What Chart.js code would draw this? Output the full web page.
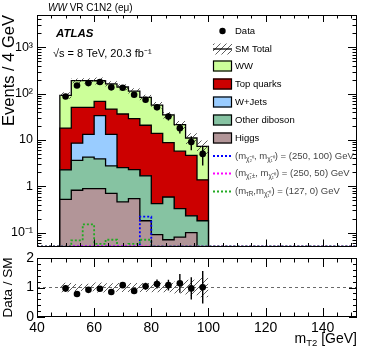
<!DOCTYPE html>
<html>
<head>
<meta charset="utf-8">
<script src="https://cdn.jsdelivr.net/npm/chart.js@4.4.0/dist/chart.umd.min.js"></script>
<style>
body { margin: 0; background: #fff; }
#wrap { position: relative; width: 374px; height: 359px; }
canvas { position: absolute; left: 0; }
</style>
</head>
<body>
<div id="wrap">
  <canvas id="main" width="374" height="258" style="top:0px"></canvas>
  <canvas id="ratio" width="374" height="119" style="top:240px"></canvas>
</div>
<script>
// bins of 4 GeV, low edges
const binLow = [48, 52, 56, 60, 64, 68, 72, 76, 80, 84, 88, 92, 96];
const binWidth = 4;

// stacked backgrounds (events / bin)
const higgs        = [0.52, 0.82, 0.89, 0.89, 0.70, 0.46, 0.54, 0.18, 0.09, 0.07, 0.08, 0.10, 0];
const otherDiboson = [1.75, 2.8, 3.37, 3.0, 2.05, 2.07, 1.75, 1.5, 0.33, 0.51, 0.25, 0.13, 0.18];
const wJets        = [0, 4.9, 9.0, 29.5, 10.5, 0, 0, 0, 0, 0, 0, 0, 0];
const topQuarks    = [15.8, 41.9, 37.1, 34.6, 33.3, 33.8, 26.7, 19.1, 13.4, 8.2, 5.4, 4.4, 1.2];
const ww           = [74, 140, 140, 122, 116, 103, 85, 62, 43, 26, 15.7, 6.4, 5.9];
const smUnc        = [0.16, 0.12, 0.13, 0.17, 0.14, 0.15, 0.15, 0.15, 0.16, 0.16, 0.2, 0.26, 0.33];

// data
const dataVals = [87, 150, 169, 178, 137, 134, 95, 74, 51, 32, 18, 9, 5];
const dataErr  = [9.3, 12.2, 13, 13.3, 11.7, 11.6, 9.7, 8.6, 7.1, 5.7, 4.2, 3, 2.2];

// signals
const sigC1N2_100 = [0, 0, 0, 0, 0, 0, 0, 0.22, 0, 0, 0, 0, 0];
const sigC1C1_50  = [0, 0, 0, 0, 0, 0, 0, 0, 0, 0, 0, 0, 0];
const sigStau     = [0, 0.068, 0.15, 0.057, 0.07, 0.048, 0.057, 0.07, 0, 0, 0, 0, 0];

// ratio panel
const ratioVals = [0.97, 0.78, 0.92, 0.96, 0.85, 1.08, 0.88, 1.04, 1.12, 1.08, 1.14, 0.97, 1.01];
const ratioErr  = [0.11, 0.08, 0.08, 0.08, 0.09, 0.1, 0.1, 0.12, 0.15, 0.18, 0.32, 0.38, 0.55];

// axes
const xMin = 40, xMax = 152;
const yMin = 0.05, yMax = 5000;
const yTicks = [0.1, 1, 10, 100, 1000];
const yTickLabels = ['10⁻¹', '1', '10', '10²', '10³'];
const xTicks = [40, 60, 80, 100, 120, 140];
const ratioTicks = [0, 1, 2];

const FONT = '"Liberation Sans", Arial, Helvetica, sans-serif';

function cumulate(lists) {
    return binLow.map((_, i) => lists.reduce((s, l) => s + l[i], 0));
}
const cumHiggs = cumulate([higgs]);
const cumDib = cumulate([higgs, otherDiboson]);
const cumWj = cumulate([higgs, otherDiboson, wJets]);
const cumTop = cumulate([higgs, otherDiboson, wJets, topQuarks]);
const cumTotal = cumulate([higgs, otherDiboson, wJets, topQuarks, ww]);

// step outline: left edge, each bin, right edge
function steps(vals, floor) {
    const pts = [{ x: binLow[0], y: floor }];
    vals.forEach((v, i) => pts.push({ x: binLow[i], y: v > 0 ? v : floor }));
    const last = binLow[binLow.length - 1] + binWidth;
    pts.push({ x: last, y: vals[vals.length - 1] > 0 ? vals[vals.length - 1] : floor });
    pts.push({ x: last, y: floor });
    return pts;
}
function signalSteps(vals) {
    const pts = steps(vals, yMin);
    pts.unshift({ x: xMin, y: yMin });
    pts.push({ x: xMax, y: yMin });
    return pts;
}
function bandSteps(center, sign) {
    const pts = [];
    center.forEach((c, i) => pts.push({ x: binLow[i], y: c * (1 + sign * smUnc[i]) }));
    const i = center.length - 1;
    pts.push({ x: binLow[i] + binWidth, y: center[i] * (1 + sign * smUnc[i]) });
    return pts;
}

function makeHatch(ctx) {
    const c = document.createElement('canvas');
    c.width = 6; c.height = 6;
    const g = c.getContext('2d');
    g.strokeStyle = '#333';
    g.lineWidth = 0.8;
    g.beginPath();
    g.moveTo(0, 6); g.lineTo(6, 0);
    g.moveTo(-3, 3); g.lineTo(3, -3);
    g.moveTo(3, 9); g.lineTo(9, 3);
    g.stroke();
    return ctx.createPattern(c, 'repeat');
}

function stackSet(vals, color) {
    return {
        data: steps(vals, 1e-4), stepped: 'before', fill: 'start',
        backgroundColor: color, borderColor: '#000', borderWidth: 1.3, pointRadius: 0
    };
}
function sigSet(vals, color) {
    return {
        data: signalSteps(vals), stepped: 'before', fill: false,
        borderColor: color, borderWidth: 1.8, borderDash: [2, 2], pointRadius: 0
    };
}

// frame and inward ticks, ROOT style
function frameTicks(opts) {
    return {
        id: 'frameTicks',
        afterDatasetsDraw(chart) {
            const { ctx, chartArea: a, scales } = chart;
            const xs = scales.x, ys = scales.y;
            ctx.save();
            ctx.strokeStyle = '#000';
            ctx.lineWidth = 1;
            ctx.beginPath();
            const tx = (v, len) => {
                const p = Math.round(xs.getPixelForValue(v)) + 0.5;
                ctx.moveTo(p, a.bottom); ctx.lineTo(p, a.bottom - len);
                ctx.moveTo(p, a.top); ctx.lineTo(p, a.top + len);
            };
            const ty = (v, len) => {
                const p = Math.round(ys.getPixelForValue(v)) + 0.5;
                ctx.moveTo(a.left, p); ctx.lineTo(a.left + len, p);
                ctx.moveTo(a.right, p); ctx.lineTo(a.right - len, p);
            };
            xTicks.forEach(v => tx(v, opts.xMajor));
            for (let v = xMin; v <= xMax; v += 5) if (v % 20 !== 0) tx(v, opts.xMinor);
            opts.yMajorVals.forEach(v => ty(v, opts.yMajor));
            opts.yMinorVals.forEach(v => ty(v, opts.yMinor));
            ctx.stroke();
            ctx.strokeRect(Math.round(a.left) + 0.5, Math.round(a.top) + 0.5,
                Math.round(a.right - a.left) - 1, Math.round(a.bottom - a.top) - 1);
            ctx.restore();
        }
    };
}

function errorBars(vals, errs) {
    return {
        id: 'errorBars',
        afterDatasetsDraw(chart) {
            const { ctx, scales } = chart;
            ctx.save();
            ctx.strokeStyle = '#000';
            ctx.lineWidth = 1.4;
            ctx.beginPath();
            vals.forEach((v, i) => {
                const x = scales.x.getPixelForValue(binLow[i] + binWidth / 2);
                ctx.moveTo(x, scales.y.getPixelForValue(Math.max(v - errs[i], 1e-4)));
                ctx.lineTo(x, scales.y.getPixelForValue(v + errs[i]));
            });
            ctx.stroke();
            ctx.restore();
        }
    };
}

function drawParts(ctx, parts, x, y) {
    parts.forEach(p => {
        ctx.font = p[1];
        ctx.fillText(p[0], x, y + (p[2] || 0));
        x += ctx.measureText(p[0]).width;
    });
    return x;
}

const legendPlugin = {
    id: 'atlasLegend',
    afterDraw(chart) {
        const ctx = chart.ctx;
        const hatch = makeHatch(ctx);
        const rows = [31, 49, 66, 84, 102, 120, 138, 156, 173.5, 191.5];
        const bx = 213, bw = 19, bh = 11, tx = 235;
        ctx.save();
        ctx.textBaseline = 'middle';
        ctx.fillStyle = '#000';
        const F = '9.5px ' + FONT;
        const S = '6.5px ' + FONT;
        // Data
        ctx.beginPath(); ctx.arc(bx + 9.5, rows[0], 3.2, 0, Math.PI * 2); ctx.fill();
        ctx.font = F; ctx.fillText('Data', tx, rows[0]);
        // SM total
        ctx.fillStyle = hatch;
        ctx.fillRect(bx, rows[1] - bh / 2, bw, bh);
        ctx.strokeStyle = '#000'; ctx.lineWidth = 1.3;
        ctx.beginPath(); ctx.moveTo(bx, rows[1]); ctx.lineTo(bx + bw, rows[1]); ctx.stroke();
        ctx.fillStyle = '#000'; ctx.fillText('SM Total', tx, rows[1]);
        const boxes = [['WW', '#ccff99'], ['Top quarks', '#cc0000'], ['W+Jets', '#99ccff'],
            ['Other diboson', '#86c3a2'], ['Higgs', '#b29598']];
        boxes.forEach((b, k) => {
            const y = rows[2 + k];
            ctx.fillStyle = b[1];
            ctx.fillRect(bx, y - bh / 2, bw, bh);
            ctx.lineWidth = 1.2; ctx.strokeStyle = '#000';
            ctx.strokeRect(bx + 0.5, y - bh / 2 + 0.5, bw - 1, bh - 1);
            ctx.fillStyle = '#000';
            ctx.font = F;
            ctx.fillText(b[0], tx, y);
        });
        const sigs = [
            ['#0000ff', [['(m', F], ['χ̃₂⁰', S, 3], [', m', F], ['χ̃₁⁰', S, 3], [') = (250, 100) GeV', F]]],
            ['#ff00ff', [['(m', F], ['χ̃₁±', S, 3], [', m', F], ['χ̃₁⁰', S, 3], [') = (250, 50) GeV', F]]],
            ['#22aa22', [['(m', F], ['τ̃R', S, 3], [',m', F], ['χ̃₁⁰', S, 3], [') = (127, 0) GeV', F]]]
        ];
        sigs.forEach((s, k) => {
            const y = rows[7 + k];
            ctx.strokeStyle = s[0]; ctx.lineWidth = 1.8; ctx.setLineDash([2, 2]);
            ctx.beginPath(); ctx.moveTo(bx, y); ctx.lineTo(bx + bw, y); ctx.stroke();
            ctx.setLineDash([]);
            ctx.fillStyle = '#444';
            drawParts(ctx, s[1], tx, y);
        });
        ctx.restore();
    }
};

const labelsPlugin = {
    id: 'atlasLabels',
    afterDraw(chart) {
        const ctx = chart.ctx;
        ctx.save();
        ctx.fillStyle = '#000';
        ctx.textBaseline = 'alphabetic';
        drawParts(ctx, [['WW', 'italic 10px ' + FONT], [' VR C1N2 (eμ)', '10px ' + FONT]], 48, 10.5);
        ctx.font = 'italic bold 11.5px ' + FONT;
        ctx.fillText('ATLAS', 56, 37);
        ctx.font = '11px ' + FONT;
        ctx.fillText('√s = 8 TeV, 20.3 fb⁻¹', 53, 57);
        ctx.restore();
    }
};

const xTitlePlugin = {
    id: 'xTitle',
    afterDraw(chart) {
        const ctx = chart.ctx;
        const a = chart.chartArea;
        const parts = [['m', '14px ' + FONT], ['T2', '9.5px ' + FONT, 3], [' [GeV]', '14px ' + FONT]];
        let w = 0;
        parts.forEach(p => { ctx.font = p[1]; w += ctx.measureText(p[0]).width; });
        ctx.save();
        ctx.fillStyle = '#000';
        drawParts(ctx, parts, a.right - w, 103);
        ctx.restore();
    }
};

// log minor ticks
const logMinor = [];
[0.01, 0.1, 1, 10, 100, 1000].forEach(d => {
    for (let m = 2; m <= 9; m++) {
        const v = d * m;
        if (v > yMin && v < yMax) logMinor.push(v);
    }
});

const mainCtx = document.getElementById('main').getContext('2d');
const mainHatch = makeHatch(mainCtx);

new Chart(mainCtx, {
    type: 'line',
    data: {
        datasets: [
            {
                data: dataVals.map((v, i) => ({ x: binLow[i] + binWidth / 2, y: v })),
                showLine: false, pointRadius: 3.3, pointBackgroundColor: '#000', pointBorderWidth: 0
            },
            sigSet(sigStau, '#22aa22'),
            sigSet(sigC1C1_50, '#ff00ff'),
            sigSet(sigC1N2_100, '#0000ff'),
            {
                data: bandSteps(cumTotal, 1), stepped: 'before', fill: '+1',
                backgroundColor: mainHatch, borderColor: 'rgba(0,0,0,0)', borderWidth: 0, pointRadius: 0
            },
            {
                data: bandSteps(cumTotal, -1), stepped: 'before', fill: false,
                borderColor: 'rgba(0,0,0,0)', borderWidth: 0, pointRadius: 0
            },
            stackSet(cumHiggs, '#b29598'),
            stackSet(cumDib, '#86c3a2'),
            stackSet(cumWj, '#99ccff'),
            stackSet(cumTop, '#cc0000'),
            stackSet(cumTotal, '#ccff99')
        ]
    },
    options: {
        responsive: false,
        animation: false,
        events: [],
        layout: { padding: { top: 15, right: 17, bottom: 10, left: 0 } },
        plugins: { legend: { display: false }, tooltip: { enabled: false } },
        scales: {
            x: { type: 'linear', min: xMin, max: xMax, display: false },
            y: {
                type: 'logarithmic', min: yMin, max: yMax,
                afterBuildTicks: s => { s.ticks = yTicks.map(v => ({ value: v })); },
                afterFit: s => { s.width = 37; },
                grid: { display: false, drawTicks: false },
                border: { display: false },
                ticks: {
                    autoSkip: false, padding: 4, color: '#000',
                    font: { family: FONT, size: 12.5 },
                    callback: v => yTickLabels[yTicks.indexOf(v)]
                },
                title: {
                    display: true, text: 'Events / 4 GeV', align: 'end', color: '#000',
                    font: { family: FONT, size: 16.5 }, padding: 0
                }
            }
        }
    },
    plugins: [
        frameTicks({ xMajor: 7, xMinor: 3.5, yMajor: 9, yMinor: 4.5, yMajorVals: yTicks, yMinorVals: logMinor }),
        errorBars(dataVals, dataErr),
        legendPlugin,
        labelsPlugin
    ]
});

const ratioCtx = document.getElementById('ratio').getContext('2d');
const ratioHatch = makeHatch(ratioCtx);
const ones = binLow.map(() => 1);
const ratioMinor = [];
for (let v = 0.2; v < 2; v += 0.2) ratioMinor.push(v);

new Chart(ratioCtx, {
    type: 'line',
    data: {
        datasets: [
            {
                data: ratioVals.map((v, i) => ({ x: binLow[i] + binWidth / 2, y: v })),
                showLine: false, pointRadius: 3.3, pointBackgroundColor: '#000', pointBorderWidth: 0
            },
            {
                data: [{ x: xMin, y: 1 }, { x: xMax, y: 1 }],
                borderColor: '#444', borderWidth: 0.8, borderDash: [3, 3], pointRadius: 0, fill: false
            },
            {
                data: bandSteps(ones, 1), stepped: 'before', fill: '+1',
                backgroundColor: ratioHatch, borderColor: 'rgba(0,0,0,0)', borderWidth: 0, pointRadius: 0
            },
            {
                data: bandSteps(ones, -1), stepped: 'before', fill: false,
                borderColor: 'rgba(0,0,0,0)', borderWidth: 0, pointRadius: 0
            }
        ]
    },
    options: {
        responsive: false,
        animation: false,
        events: [],
        layout: { padding: { top: 18, right: 17, bottom: 0, left: 0 } },
        plugins: { legend: { display: false }, tooltip: { enabled: false } },
        scales: {
            x: {
                type: 'linear', min: xMin, max: xMax,
                afterBuildTicks: s => { s.ticks = xTicks.map(v => ({ value: v })); },
                afterFit: s => { s.height = 42; },
                grid: { display: false, drawTicks: false },
                border: { display: false },
                ticks: { autoSkip: false, maxRotation: 0, padding: 3, color: '#000', font: { family: FONT, size: 14 } }
            },
            y: {
                type: 'linear', min: 0, max: 2,
                afterBuildTicks: s => { s.ticks = ratioTicks.map(v => ({ value: v })); },
                afterFit: s => { s.width = 37; },
                grid: { display: false, drawTicks: false },
                border: { display: false },
                ticks: { autoSkip: false, padding: 3, color: '#000', font: { family: FONT, size: 14 } },
                title: {
                    display: true, text: 'Data / SM', color: '#000',
                    font: { family: FONT, size: 13.5 }, padding: 0
                }
            }
        }
    },
    plugins: [
        frameTicks({ xMajor: 9, xMinor: 4.5, yMajor: 8, yMinor: 4, yMajorVals: ratioTicks, yMinorVals: ratioMinor }),
        errorBars(ratioVals, ratioErr),
        xTitlePlugin
    ]
});
</script>
</body>
</html>
